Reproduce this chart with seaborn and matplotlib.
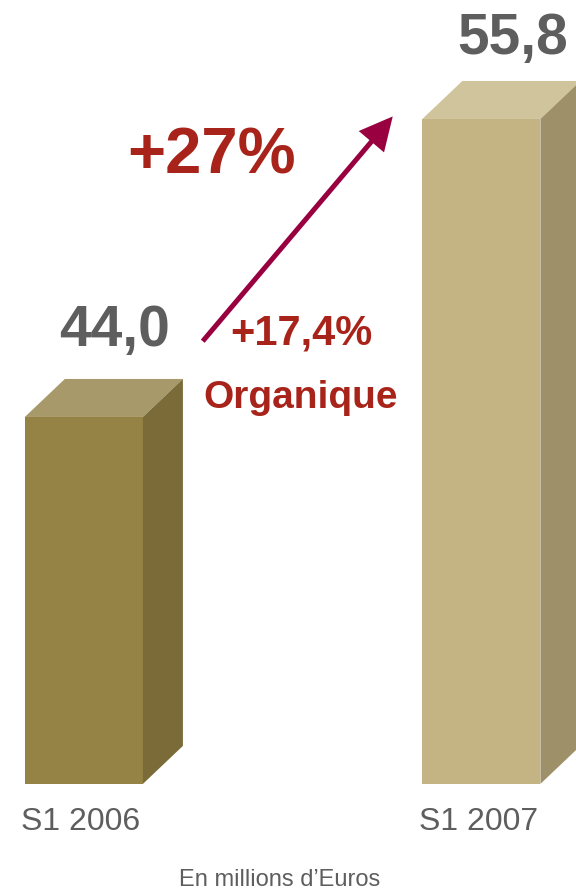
import numpy as np
import pandas as pd
import matplotlib.pyplot as plt
from matplotlib.patches import Polygon, FancyArrowPatch
import seaborn as sns

# data
periods = ["S1 2006", "S1 2007"]
values = [44.0, 55.8]
value_labels = ["44,0", "55,8"]
growth_total = "+27%"
growth_organic = "+17,4%"
organic_label = "Organique"
unit_note = "En millions d\u2019Euros"

# colours: front, top, side
front_cols = ["#948344", "#c4b383"]
top_cols = ["#a8996a", "#d0c49c"]
side_cols = ["#7a6b39", "#9e9068"]
GREY = "#5e5e5e"
RED = "#a8241a"
ARROW = "#990040"

BASE = 29.47          # value where the bars start (axis not zero based)
Y_RANGE = (25.11, 60.55)
X_RANGE = (-0.211, 1.238)
BAR_W = 0.297
DEPTH_PX = (40, 38)   # 3d offset in pixels

sns.set_theme(style="white")
plt.rcParams["font.family"] = ["Liberation Sans", "DejaVu Sans"]

fig = plt.figure(figsize=(5.76, 8.95), dpi=100)
ax = fig.add_axes([0, 0, 1, 1])

df = pd.DataFrame({"period": periods, "value": values})
sns.barplot(data=df, x="period", y="value", hue="period", palette=front_cols,
            width=BAR_W, legend=False, ax=ax, linewidth=0, saturation=1)
ax.set_xlim(*X_RANGE)
ax.set_ylim(*Y_RANGE)
ax.axis("off")

# pixel -> data scale
px_x = (X_RANGE[1] - X_RANGE[0]) / 576
px_y = (Y_RANGE[1] - Y_RANGE[0]) / 895
dx, dy = DEPTH_PX[0] * px_x, DEPTH_PX[1] * px_y

label_gap = [2.85, 2.6]
for i, p in enumerate(ax.patches):
    v = values[i]
    p.set_y(BASE)
    p.set_height(v - BASE)
    x0 = p.get_x()
    x1 = x0 + p.get_width()
    top = [(x0, v), (x1, v), (x1 + dx, v + dy), (x0 + dx, v + dy)]
    side = [(x1, BASE), (x1, v), (x1 + dx, v + dy), (x1 + dx, BASE + dy)]
    ax.add_patch(Polygon(top, closed=True, facecolor=top_cols[i], edgecolor="none"))
    ax.add_patch(Polygon(side, closed=True, facecolor=side_cols[i], edgecolor="none"))
    cx = x0 + p.get_width() / 2
    ax.text(cx + 31 * px_x, v + label_gap[i], value_labels[i], ha="center", va="baseline",
            fontsize=41, fontweight="bold", color=GREY)
    ax.text(cx - 3 * px_x, BASE - 37 * px_y, periods[i], ha="center", va="center",
            fontsize=23, color=GREY)

# growth arrow from the first bar to the second
ARROW_START = (0.299, 47.0)
ARROW_END = (0.777, 55.9)
arrow = FancyArrowPatch(ARROW_START, ARROW_END,
                        arrowstyle="-|>,head_length=18,head_width=9",
                        mutation_scale=1, color=ARROW, lw=3.6,
                        shrinkA=0, shrinkB=0, joinstyle="miter", capstyle="butt")
ax.add_patch(arrow)

fig.text(212 / 576, 1 - 173 / 895, growth_total, ha="center", va="baseline",
         fontsize=47, fontweight="bold", color=RED)
fig.text(230 / 576, 1 - 345 / 895, growth_organic, ha="left", va="baseline",
         fontsize=30, fontweight="bold", color=RED)
fig.text(203 / 576, 1 - 408 / 895, organic_label, ha="left", va="baseline",
         fontsize=28, fontweight="bold", color=RED)
fig.text(280 / 576, 1 - 880 / 895, unit_note, ha="center", va="center",
         fontsize=17, color=GREY)

fig.savefig("out.png", dpi=100)
